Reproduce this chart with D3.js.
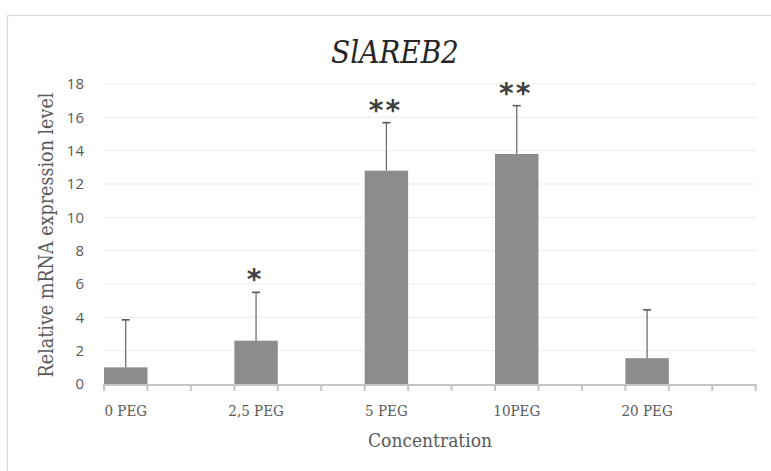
<!DOCTYPE html>
<html>
<head>
<meta charset="utf-8">
<script src="https://cdn.jsdelivr.net/npm/d3@7"></script>
<style>
  body { margin: 0; background: #fff; }
  svg { display: block; }
</style>
</head>
<body>
<svg id="chart" width="771" height="471"></svg>
<script>
// ---- data ----
const categories = ["0 PEG", "2,5 PEG", "5 PEG", "10PEG", "20 PEG"];
const means      = [1.0, 2.6, 12.8, 13.8, 1.55];
const errors     = [2.85, 2.9, 2.88, 2.9, 2.9];
const marks      = ["", "*", "**", "**", ""];
const yTicks     = [0, 2, 4, 6, 8, 10, 12, 14, 16, 18];
const title      = "SlAREB2";
const xTitle     = "Concentration";
const yTitle     = "Relative mRNA expression level";

// ---- layout ----
const svg = d3.select("#chart");
const plotL = 104, plotR = 755.7, plotT = 84, plotB = 384;
const serif = "'DejaVu Serif Condensed', 'DejaVu Serif', serif";

// 3 slots per category (bar + 2 empty slots), like the original sheet
const slots = [];
categories.forEach(c => { slots.push(c); slots.push(c + "\u0001a"); slots.push(c + "\u0001b"); });

const x = d3.scaleBand().domain(slots).range([plotL, plotR]).padding(0);
const y = d3.scaleLinear().domain([0, 18]).range([plotB, plotT]);

// chart border
svg.append("rect")
  .attr("x", 7.5).attr("y", 15.5)
  .attr("width", 800).attr("height", 500)
  .attr("fill", "none").attr("stroke", "#d9d9d9").attr("stroke-width", 1.2);

// gridlines
svg.append("g").selectAll("line").data(yTicks.filter(t => t > 0)).join("line")
  .attr("x1", plotL).attr("x2", plotR)
  .attr("y1", d => y(d)).attr("y2", d => y(d))
  .attr("stroke", "#ebebeb").attr("stroke-width", 1);

// y axis labels
const yAxis = d3.axisLeft(y).tickValues(yTicks).tickSize(0).tickPadding(20);
const gy = svg.append("g").attr("transform", `translate(${plotL},0)`).call(yAxis);
gy.select(".domain").remove();
gy.selectAll("text")
  .attr("fill", "#595959")
  .style("font-family", "'Open Sans', 'Noto Sans', sans-serif")
  .style("font-size", "15px");

// bars
svg.append("g").selectAll("rect").data(categories).join("rect")
  .attr("x", d => x(d))
  .attr("width", x.bandwidth())
  .attr("y", (d, i) => y(means[i]))
  .attr("height", (d, i) => y(0) - y(means[i]))
  .attr("fill", "#8c8c8c");

// error bars (upper only)
const eb = svg.append("g").selectAll("g").data(categories).join("g");
eb.append("line")
  .attr("x1", d => x(d) + x.bandwidth() / 2).attr("x2", d => x(d) + x.bandwidth() / 2)
  .attr("y1", (d, i) => y(means[i])).attr("y2", (d, i) => y(means[i] + errors[i]))
  .attr("stroke", "#707070").attr("stroke-width", 1.3);
eb.append("line")
  .attr("x1", d => x(d) + x.bandwidth() / 2 - 4).attr("x2", d => x(d) + x.bandwidth() / 2 + 4)
  .attr("y1", (d, i) => y(means[i] + errors[i])).attr("y2", (d, i) => y(means[i] + errors[i]))
  .attr("stroke", "#595959").attr("stroke-width", 1.6);

// significance marks
svg.append("g").selectAll("text").data(categories).join("text")
  .attr("x", d => x(d) + x.bandwidth() / 2 - 1)
  .attr("y", (d, i) => y(means[i] + errors[i]) - 3)
  .attr("text-anchor", "middle")
  .attr("fill", "#404040")
  .style("font-family", "'DejaVu Sans', sans-serif")
  .style("font-weight", "bold")
  .style("font-size", "28px")
  .style("letter-spacing", "2px")
  .text((d, i) => marks[i]);

// x axis baseline
svg.append("line")
  .attr("x1", plotL - 1).attr("x2", plotR + 1)
  .attr("y1", plotB + 1).attr("y2", plotB + 1)
  .attr("stroke", "#c4c4c4").attr("stroke-width", 2);

// boundary ticks
const bounds = slots.map(s => x(s)).concat([x(slots[slots.length - 1]) + x.bandwidth()]);
svg.append("g").selectAll("line").data(bounds).join("line")
  .attr("x1", d => d).attr("x2", d => d)
  .attr("y1", plotB + 1).attr("y2", plotB + 7)
  .attr("stroke", "#c4c4c4").attr("stroke-width", 2);

// x labels
const xAxis = d3.axisBottom(x).tickValues(categories).tickSize(0).tickPadding(21);
const gx = svg.append("g").attr("transform", `translate(0,${plotB})`).call(xAxis);
gx.select(".domain").remove();
gx.selectAll("text")
  .attr("fill", "#595959")
  .style("font-family", serif)
  .style("font-size", "15px");

// titles
svg.append("text")
  .attr("x", 395).attr("y", 63)
  .attr("text-anchor", "middle")
  .attr("fill", "#262626")
  .style("font-family", serif)
  .style("font-style", "italic")
  .style("font-size", "31px")
  .text(title);

svg.append("text")
  .attr("x", 430).attr("y", 447)
  .attr("text-anchor", "middle")
  .attr("fill", "#595959")
  .style("font-family", serif)
  .style("font-size", "19px")
  .text(xTitle);

svg.append("text")
  .attr("transform", "translate(53,235) rotate(-90)")
  .attr("text-anchor", "middle")
  .attr("fill", "#595959")
  .style("font-family", serif)
  .style("font-size", "19.5px")
  .text(yTitle);
</script>
</body>
</html>
